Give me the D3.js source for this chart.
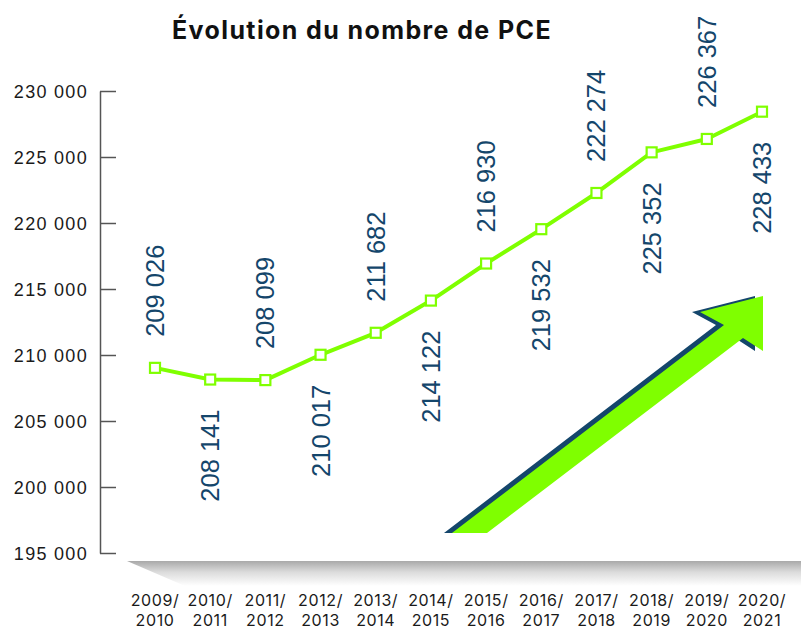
<!DOCTYPE html>
<html>
<head>
<meta charset="utf-8">
<script src="https://cdn.jsdelivr.net/npm/d3@7"></script>
<style>
  body { margin: 0; background: #fff; }
  svg { display: block; }
  .title { font-family: Inter, "Noto Sans", sans-serif; font-weight: 700; font-size: 25px; fill: #111; letter-spacing: 1.4px; }
  .y-axis text { font-family: "Liberation Sans", Arial, sans-serif; font-size: 18px; fill: #1a1a1a; letter-spacing: 1.3px; }
  .y-axis path, .y-axis line { stroke: #555; stroke-width: 1.5; }
  .x-label { font-family: Inter, "Noto Sans", sans-serif; font-size: 16px; fill: #1a1a1a; letter-spacing: 0.6px; }
  .value-label { font-family: "Liberation Sans", Arial, sans-serif; font-size: 25.5px; fill: #14466b; }
</style>
</head>
<body>
<svg id="chart"></svg>
<script>
// seasons on the x axis
const seasons = ["2009/2010", "2010/2011", "2011/2012", "2012/2013", "2013/2014", "2014/2015",
  "2015/2016", "2016/2017", "2017/2018", "2018/2019", "2019/2020", "2020/2021"];
// number of PCE
const pceCounts = [209026, 208141, 208099, 210017, 211682, 214122,
  216930, 219532, 222274, 225352, 226367, 228433];
const yTicks = [195000, 200000, 205000, 210000, 215000, 220000, 225000, 230000];

const W = 801, H = 630;
const green = "#7fff00", navy = "#14466b";

const svg = d3.select("#chart").attr("width", W).attr("height", H);

const fr = d3.formatLocale({ decimal: ",", thousands: " ", grouping: [3], currency: ["", " €"] });
const fmt = fr.format(",d");

const x = d3.scalePoint().domain(seasons).range([155, 762]);
const y = d3.scaleLinear().domain([195000, 230000]).range([553, 91]);

// floor shadow under the plot
const defs = svg.append("defs");
const grad = defs.append("linearGradient").attr("id", "floor")
  .attr("x1", 0).attr("y1", 0).attr("x2", 0).attr("y2", 1);
grad.append("stop").attr("offset", 0).attr("stop-color", "#a9a9a9");
grad.append("stop").attr("offset", 0.45).attr("stop-color", "#dcdcdc");
grad.append("stop").attr("offset", 1).attr("stop-color", "#fff");
svg.append("path")
  .attr("d", "M127,561 L801,561 L801,586 L185,586 Z")
  .attr("fill", "url(#floor)");

// title
svg.append("text").attr("class", "title")
  .attr("x", 362).attr("y", 39).attr("text-anchor", "middle")
  .text("Évolution du nombre de PCE");

// y axis, ticks pointing into the plot
const yAxis = d3.axisLeft(y).tickValues(yTicks).tickSize(-16).tickSizeOuter(0)
  .tickPadding(12).tickFormat(fmt);
svg.append("g").attr("class", "y-axis")
  .attr("transform", "translate(100,0)")
  .call(yAxis)
  .call(g => g.selectAll("text").attr("dy", "0.35em"));

// x labels on two lines
const xl = svg.append("g").selectAll("text").data(seasons).join("text")
  .attr("class", "x-label")
  .attr("text-anchor", "middle")
  .attr("transform", d => `translate(${x(d)},0)`);
xl.append("tspan").attr("x", 0).attr("y", 606).text(d => d.split("/")[0] + "/");
xl.append("tspan").attr("x", 0).attr("y", 626).text(d => d.split("/")[1]);

// decorative rising arrow
const arrow = "M452,533 L724,325 L700,312 L763,296 L763,351 L743,338 L487,533 Z";
svg.append("path").attr("d", arrow).attr("fill", navy).attr("transform", "translate(-8,0)");
svg.append("path").attr("d", arrow).attr("fill", green);

// line
const pts = seasons.map((s, i) => ({ s, v: pceCounts[i], i }));
svg.append("path").datum(pts)
  .attr("fill", "none").attr("stroke", green).attr("stroke-width", 4)
  .attr("stroke-linejoin", "round")
  .attr("d", d3.line().x(d => x(d.s)).y(d => y(d.v)));

svg.append("g").selectAll("rect").data(pts).join("rect")
  .attr("x", d => x(d.s) - 5).attr("y", d => y(d.v) - 5)
  .attr("width", 10).attr("height", 10)
  .attr("fill", "#fff").attr("stroke", green).attr("stroke-width", 2.2);

// value labels, alternating above / below
svg.append("g").selectAll("text").data(pts).join("text")
  .attr("class", "value-label")
  .attr("transform", d => `translate(${x(d.s) + 9},${y(d.v) + (d.i % 2 === 0 ? -31 : 30)}) rotate(-90)`)
  .attr("text-anchor", d => d.i % 2 === 0 ? "start" : "end")
  .text(d => fmt(d.v));
</script>
</body>
</html>
